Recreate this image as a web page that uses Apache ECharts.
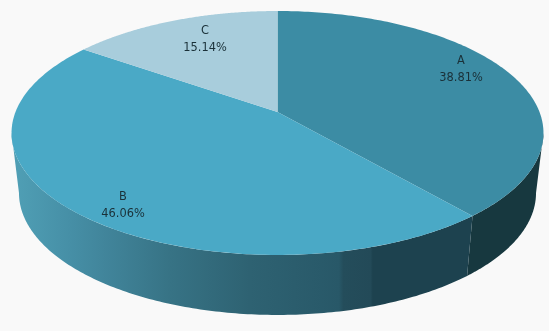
<!DOCTYPE html>
<html><head><meta charset="utf-8">
<style>html,body{margin:0;padding:0;background:#fff}#c{width:549px;height:331px}</style>
<script src="https://cdn.jsdelivr.net/npm/echarts@6/dist/echarts.min.js"></script>
</head><body><div id="c"></div>
<script>
const categories = ['A', 'B', 'C'];
const percents = [38.81, 46.06, 15.14];

const topColors = ['#3c8ca4', '#4aa9c6', '#a8cddc'];
const labelCenters = [[461, 70], [123, 206], [205, 40]];

// Perspective projection of the unit disc onto the page.
const cx = 277.5, cy = 112, R = 262, ya = -99.1, persp = 0.172;
const depth = 60, shrink = 0.972, steps = 160;
// The wall is only visible between the two silhouette angles.
const wallFrom = Math.acos(-persp), wallTo = 2 * Math.PI - wallFrom;

const total = percents.reduce((a, b) => a + b, 0);
function project(theta) {
  const u = Math.sin(theta), v = Math.cos(theta), d = 1 + persp * v;
  return [cx + R * u / d, (cy + ya * v) / d];
}
function lower(p) { return [cx + (p[0] - cx) * shrink, p[1] + depth]; }
function range(i) {
  let s = 0;
  for (let k = 0; k < i; k++) s += percents[k];
  return [s / total * 2 * Math.PI, (s + percents[i]) / total * 2 * Math.PI];
}
function arc(a, b) {
  const pts = [];
  for (let k = 0; k <= steps; k++) pts.push(project(a + (b - a) * k / steps));
  return pts;
}
const sideFills = [
  '#17383f',
  new echarts.graphic.LinearGradient(18, 0, 470, 0, [
    { offset: 0, color: '#4f9eb4' },
    { offset: 0.115, color: '#468fa6' },
    { offset: 0.19, color: '#41859b' },
    { offset: 0.336, color: '#377385' },
    { offset: 0.513, color: '#2e6272' },
    { offset: 0.71, color: '#285868' },
    { offset: 0.72, color: '#244d5b' },
    { offset: 0.78, color: '#234a58' },
    { offset: 0.785, color: '#1d424f' },
    { offset: 1, color: '#1d424f' }
  ], true),
  '#377385'
];

function renderSide(params) {
  const i = params.dataIndex, r = range(i);
  const a = Math.max(r[0], wallFrom), b = Math.min(r[1], wallTo);
  if (b <= a) return null;
  const t = arc(a, b);
  return {
    type: 'polygon', silent: true,
    shape: { points: t.concat(t.map(lower).reverse()) },
    style: { fill: sideFills[i] }
  };
}
function renderTop(params) {
  const i = params.dataIndex, r = range(i);
  return {
    type: 'polygon', silent: true,
    shape: { points: [[cx, cy]].concat(arc(r[0], r[1])) },
    style: { fill: topColors[i] }
  };
}
function renderLabel(params) {
  const i = params.dataIndex;
  return {
    type: 'text', silent: true,
    style: {
      x: labelCenters[i][0], y: labelCenters[i][1],
      text: categories[i] + '\n' + percents[i].toFixed(2) + '%',
      font: '11.4px "DejaVu Sans"', lineHeight: 17,
      fill: '#1a3038', align: 'center', verticalAlign: 'middle'
    }
  };
}

const chart = echarts.init(document.getElementById('c'), null, { renderer: 'canvas' });
const base = { type: 'custom', coordinateSystem: 'none', data: percents, animation: false, silent: true };
chart.setOption({
  backgroundColor: '#f9f9f9',
  animation: false,
  series: [
    Object.assign({}, base, { name: 'sides', z: 1, renderItem: renderSide }),
    Object.assign({}, base, { name: 'tops', z: 2, renderItem: renderTop }),
    Object.assign({}, base, { name: 'labels', z: 3, renderItem: renderLabel })
  ]
});
</script></body></html>
